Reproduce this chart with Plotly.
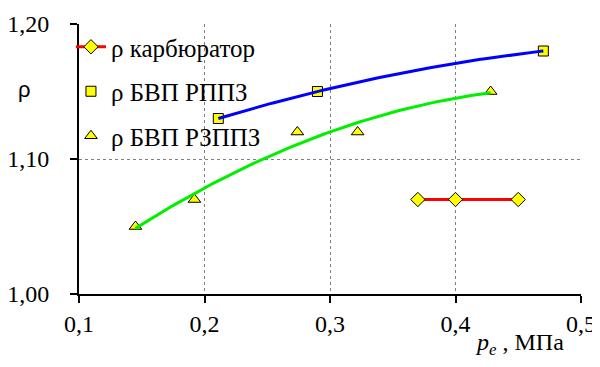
import numpy as np
import plotly.graph_objects as go

# ---- data ----
carb_x = [0.37, 0.40, 0.45]
carb_y = [1.07, 1.07, 1.07]
rppz_x = [0.211, 0.29, 0.47]
rppz_y = [1.13, 1.15, 1.18]
rzppz_x = [0.145, 0.192, 0.274, 0.322, 0.428]
rzppz_y = [1.05, 1.07, 1.12, 1.12, 1.15]
names = ["ρ карбюратор", "ρ БВП РППЗ", "ρ БВП РЗППЗ"]
x_ticks = [0.1, 0.2, 0.3, 0.4, 0.5]
x_labels = ["0,1", "0,2", "0,3", "0,4", "0,5"]
y_ticks = [1.00, 1.10, 1.20]
y_labels = ["1,00", "1,10", "1,20"]

FONT = "Liberation Serif"


def trend(xs, ys, deg=2, n=120):
    c = np.polyfit(xs, ys, deg)
    xx = np.linspace(min(xs), max(xs), n)
    return xx, np.polyval(c, xx)


fig = go.Figure()

mk = dict(color="#FFFF00", line=dict(color="black", width=1))

fig.add_trace(go.Scatter(
    x=carb_x, y=carb_y, mode="lines+markers", name=names[0],
    line=dict(color="#FF0000", width=3),
    marker=dict(symbol="diamond", size=11, **mk),
    legendgroup="a",
))
fig.add_trace(go.Scatter(
    x=rppz_x, y=rppz_y, mode="markers", name=names[1],
    marker=dict(symbol="square", size=10, **mk),
    legendgroup="b",
))
fig.add_trace(go.Scatter(
    x=rzppz_x, y=rzppz_y, mode="markers", name=names[2],
    marker=dict(symbol="triangle-up", size=11, **mk),
    legendgroup="c",
))

bx, by = trend(rppz_x, rppz_y)
fig.add_trace(go.Scatter(x=bx, y=by, mode="lines", showlegend=False,
                         line=dict(color="#0000FF", width=3), hoverinfo="skip"))
gx, gy = trend(rzppz_x, rzppz_y)
fig.add_trace(go.Scatter(x=gx, y=gy, mode="lines", showlegend=False,
                         line=dict(color="#00F000", width=3), hoverinfo="skip"))

for ax in (fig.layout.xaxis, fig.layout.yaxis):
    ax.update(
        showline=True, linecolor="black", linewidth=2,
        ticks="outside", ticklen=7, tickwidth=2, tickcolor="black",
        showgrid=True, gridcolor="#7f7f7f", griddash="dot", gridwidth=1,
        zeroline=False, automargin=False,
        tickfont=dict(family=FONT, size=24, color="black"),
    )

fig.layout.xaxis.update(range=[0.1, 0.5], tickvals=x_ticks, ticktext=x_labels)
fig.layout.yaxis.update(range=[1.0, 1.2], tickvals=y_ticks, ticktext=y_labels,
                        ticklabelstandoff=16)

# the page body has an 8px margin, so the plot area is shifted by it
fig.update_layout(
    width=600, height=367,
    margin=dict(l=71, r=27, t=16, b=81),
    plot_bgcolor="white", paper_bgcolor="white",
    font=dict(family=FONT, size=24, color="black"),
    legend=dict(
        x=-0.016, y=1.0, xanchor="left", yanchor="top",
        bgcolor="rgba(0,0,0,0)", borderwidth=0,
        tracegroupgap=9, itemwidth=30,
        font=dict(family=FONT, size=25, color="black"),
    ),
    annotations=[
        dict(text="ρ", xref="paper", yref="paper", x=-0.108, y=0.757,
             xanchor="center", yanchor="middle", showarrow=False,
             font=dict(family="Liberation Sans", size=22, color="black")),
        dict(text="<i>p</i><sub><i>e</i></sub> , МПа", xref="paper", yref="paper",
             x=0.97, y=-0.185, xanchor="right", yanchor="middle", showarrow=False,
             font=dict(family=FONT, size=24, color="black")),
    ],
)

fig.write_html("out.html")
